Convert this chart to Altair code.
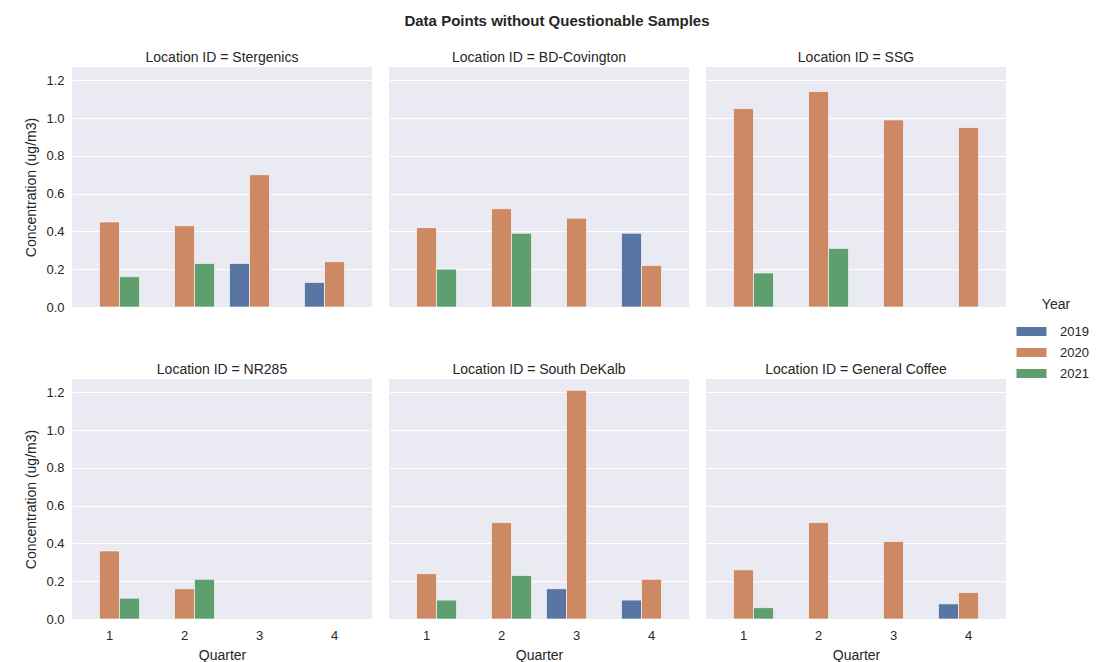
import altair as alt
import pandas as pd

locations = ["Stergenics", "BD-Covington", "SSG", "NR285", "South DeKalb", "General Coffee"]
years = ["2019", "2020", "2021"]
colors = ["#5975a4", "#cc8963", "#5f9e6e"]
quarters = ["1", "2", "3", "4"]

# (quarter, year, value)
stergenics = [("1", "2020", 0.45), ("1", "2021", 0.16), ("2", "2020", 0.43), ("2", "2021", 0.23),
              ("3", "2019", 0.23), ("3", "2020", 0.70), ("4", "2019", 0.13), ("4", "2020", 0.24)]
bd_covington = [("1", "2020", 0.42), ("1", "2021", 0.20), ("2", "2020", 0.52), ("2", "2021", 0.39),
                ("3", "2020", 0.47), ("4", "2019", 0.39), ("4", "2020", 0.22)]
ssg = [("1", "2020", 1.05), ("1", "2021", 0.18), ("2", "2020", 1.14), ("2", "2021", 0.31),
       ("3", "2020", 0.99), ("4", "2020", 0.95)]
nr285 = [("1", "2020", 0.36), ("1", "2021", 0.11), ("2", "2020", 0.16), ("2", "2021", 0.21)]
south_dekalb = [("1", "2020", 0.24), ("1", "2021", 0.10), ("2", "2020", 0.51), ("2", "2021", 0.23),
                ("3", "2019", 0.16), ("3", "2020", 1.21), ("4", "2019", 0.10), ("4", "2020", 0.21)]
general_coffee = [("1", "2020", 0.26), ("1", "2021", 0.06), ("2", "2020", 0.51),
                  ("3", "2020", 0.41), ("4", "2019", 0.08), ("4", "2020", 0.14)]

series = [stergenics, bd_covington, ssg, nr285, south_dekalb, general_coffee]
rows = []
for loc, data in zip(locations, series):
    for q, y, v in data:
        rows.append({"Panel": f"Location ID = {loc}", "Quarter": q, "Year": y, "Value": v})
df = pd.DataFrame(rows)
panel_order = [f"Location ID = {l}" for l in locations]

FONT = "Liberation Sans"
TXT = "#262626"

base = alt.Chart(df).mark_bar(stroke="white", strokeWidth=0.6).encode(
    x=alt.X("Quarter:N", sort=quarters, scale=alt.Scale(domain=quarters, paddingInner=0.2, paddingOuter=0.1),
            axis=alt.Axis(title="Quarter", labelAngle=0)),
    xOffset=alt.XOffset("Year:N", scale=alt.Scale(domain=years, paddingInner=0, paddingOuter=0)),
    y=alt.Y("Value:Q", scale=alt.Scale(domain=[0, 1.27], nice=False),
            axis=alt.Axis(title="Concentration (ug/m3)", values=[0, 0.2, 0.4, 0.6, 0.8, 1.0, 1.2], format=".1f")),
    color=alt.Color("Year:N", scale=alt.Scale(domain=years, range=colors),
                    legend=alt.Legend(title="Year", orient="none", legendX=952, legendY=231,
                                      symbolType="M-2,-0.6H2V0.6H-2Z", symbolSize=225,
                                      symbolStrokeWidth=0, labelOffset=21, rowPadding=6,
                                      titleFontSize=14, titleFontWeight="normal", labelFontSize=13,
                                      titleColor=TXT, labelColor=TXT, titlePadding=12,
                                      titleAnchor="middle")),
).properties(width=300, height=240)

chart = base.facet(
    facet=alt.Facet("Panel:N", sort=panel_order,
                    header=alt.Header(title=None, labelFontSize=14, labelColor=TXT, labelFont=FONT,
                                      labelPadding=2)),
    columns=3,
    spacing={"row": 55, "column": 17},
).properties(
    title=alt.TitleParams("Data Points without Questionable Samples", fontSize=15, fontWeight="bold",
                          font=FONT, color=TXT, anchor="middle", offset=22),
    padding={"left": 24, "top": 14, "right": 5, "bottom": 0},
    background="white",
).configure_view(
    fill="#EAEAF2", stroke=None
).configure_axis(
    grid=True, gridColor="white", gridWidth=1, domain=False, ticks=False,
    labelFont=FONT, titleFont=FONT, labelFontSize=13, titleFontSize=14, labelColor=TXT, titleColor=TXT,
    titleFontWeight="normal", labelPadding=8, titlePadding=7,
).configure_axisX(
    grid=False, labelPadding=9, titlePadding=6
).configure_legend(
    labelFont=FONT, titleFont=FONT
)

chart.save("out.html", embed_options={"renderer": "svg", "actions": False})
